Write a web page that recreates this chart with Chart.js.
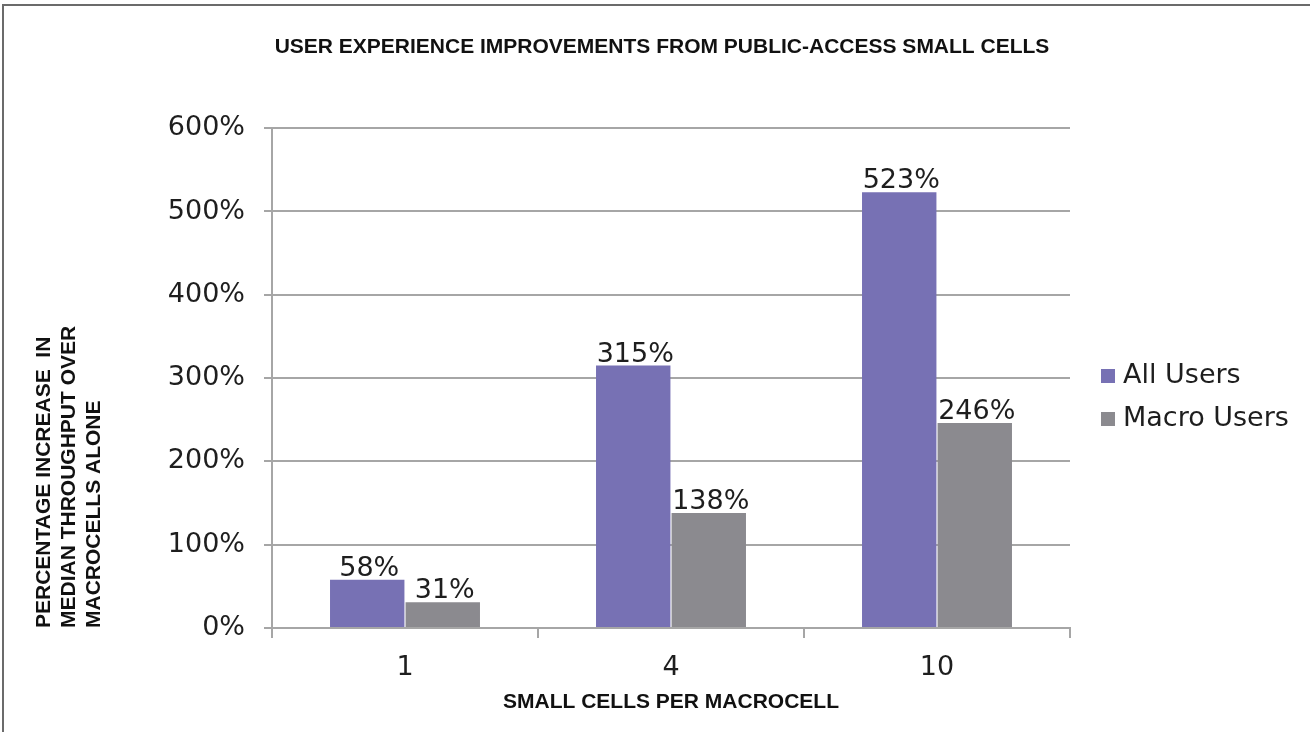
<!DOCTYPE html>
<html>
<head>
<meta charset="utf-8">
<title>User experience improvements from public-access small cells</title>
<script src="https://cdn.jsdelivr.net/npm/chart.js@4.4.1/dist/chart.umd.min.js"></script>
<style>
  html, body { margin: 0; padding: 0; background: #ffffff; }
  #wrap { position: relative; width: 1310px; height: 732px; }
</style>
</head>
<body>
<div id="wrap"><canvas id="chart" width="1310" height="732"></canvas></div>
<script>
// Small cells deployed per macrocell
const categories = ['1', '4', '10'];
// Percentage increase in median throughput over macrocells alone
const allUsers = [58, 315, 523];
const macroUsers = [31, 138, 246];
const seriesNames = ['All Users', 'Macro Users'];
const yTicks = [0, 100, 200, 300, 400, 500, 600];

const chartTitle = 'USER EXPERIENCE IMPROVEMENTS FROM PUBLIC-ACCESS SMALL CELLS';
const yTitle = ['PERCENTAGE INCREASE  IN', 'MEDIAN THROUGHPUT OVER', 'MACROCELLS ALONE'];
const xTitle = 'SMALL CELLS PER MACROCELL';

const PURPLE = '#7771b4';
const GREY = '#8b8a8f';
const TEXT = '#1e1e1e';
const GRID = '#a6a6a6';
const LABEL_FONT = '"DejaVu Sans", Verdana, sans-serif';
const BOLD_FONT = '"Liberation Sans", Arial, sans-serif';

// Thin frame along the top and left edges of the figure
const framePlugin = {
  id: 'frame',
  beforeDraw(chart) {
    const ctx = chart.ctx;
    ctx.save();
    ctx.fillStyle = '#ffffff';
    ctx.fillRect(0, 0, chart.width, chart.height);
    ctx.fillStyle = '#6b6b6b';
    ctx.fillRect(2, 4, chart.width - 2, 2);
    ctx.fillRect(2, 4, 2, chart.height - 4);
    ctx.restore();
  }
};

// Percentage printed above each bar
const valueLabelPlugin = {
  id: 'valueLabels',
  afterDatasetsDraw(chart) {
    const ctx = chart.ctx;
    ctx.save();
    ctx.font = '27px ' + LABEL_FONT;
    ctx.fillStyle = TEXT;
    ctx.textAlign = 'center';
    ctx.textBaseline = 'alphabetic';
    chart.data.datasets.forEach((ds, i) => {
      const meta = chart.getDatasetMeta(i);
      meta.data.forEach((bar, j) => {
        ctx.fillText(ds.data[j] + '%', bar.x + 2, bar.y - 4);
      });
    });
    ctx.restore();
  }
};

// Legend to the right of the plot, squares followed by series names
const sideLegendPlugin = {
  id: 'sideLegend',
  afterDraw(chart) {
    const ctx = chart.ctx;
    const x0 = chart.chartArea.right + 31;
    const y0 = 376;
    const step = 43;
    ctx.save();
    ctx.font = '27px ' + LABEL_FONT;
    ctx.textBaseline = 'middle';
    ctx.textAlign = 'left';
    chart.data.datasets.forEach((ds, i) => {
      const y = y0 + i * step;
      ctx.fillStyle = ds.backgroundColor;
      ctx.fillRect(x0, y - 7, 14, 14);
      ctx.fillStyle = TEXT;
      ctx.fillText(ds.label, x0 + 22, y);
    });
    ctx.restore();
  }
};

new Chart(document.getElementById('chart'), {
  type: 'bar',
  data: {
    labels: categories,
    datasets: [
      { label: seriesNames[0], data: allUsers, backgroundColor: PURPLE },
      { label: seriesNames[1], data: macroUsers, backgroundColor: GREY }
    ]
  },
  options: {
    responsive: false,
    animation: false,
    devicePixelRatio: 1,
    layout: { padding: { left: 14, right: 0, top: 0, bottom: 0 } },
    datasets: {
      bar: { categoryPercentage: 0.568, barPercentage: 0.985, borderWidth: 0 }
    },
    plugins: {
      legend: { display: false },
      tooltip: { enabled: false },
      title: {
        display: true,
        text: chartTitle,
        color: '#111111',
        font: { family: BOLD_FONT, size: 21, weight: 'bold', lineHeight: 1.2 },
        padding: { top: 35, bottom: 68 },
        align: 'center'
      }
    },
    scales: {
      x: {
        type: 'category',
        afterFit(scale) { scale.height = 104; },
        grid: {
          offset: true,
          drawOnChartArea: false,
          drawTicks: true,
          tickLength: 10,
          color: GRID,
          lineWidth: 2
        },
        border: { display: true, color: GRID, width: 2 },
        ticks: {
          color: TEXT,
          font: { family: LABEL_FONT, size: 27 },
          padding: 14
        },
        title: {
          display: true,
          text: xTitle,
          color: '#111111',
          font: { family: BOLD_FONT, size: 21, weight: 'bold', lineHeight: 1.2 },
          padding: { top: 0, bottom: 17 }
        }
      },
      y: {
        min: 0,
        max: 600,
        afterFit(scale) { scale.width = 258; },
        afterBuildTicks(scale) { scale.ticks = yTicks.map(v => ({ value: v })); },
        grid: {
          color: GRID,
          lineWidth: 2,
          tickLength: 8,
          drawTicks: true
        },
        border: { display: true, color: GRID, width: 2 },
        ticks: {
          color: TEXT,
          font: { family: LABEL_FONT, size: 27 },
          padding: 19,
          callback: v => v + '%'
        },
        title: {
          display: true,
          text: yTitle,
          align: 'start',
          color: '#111111',
          font: { family: BOLD_FONT, size: 21, weight: 'bold', lineHeight: 1.19 },
          padding: { top: 18, bottom: 0 }
        }
      },
      // Empty right-hand band that keeps room for the legend
      legendBand: {
        type: 'linear',
        position: 'right',
        afterFit(scale) { scale.width = 240; },
        grid: { display: false, drawTicks: false },
        border: { display: false },
        ticks: { display: false }
      }
    }
  },
  plugins: [framePlugin, valueLabelPlugin, sideLegendPlugin]
});
</script>
</body>
</html>
